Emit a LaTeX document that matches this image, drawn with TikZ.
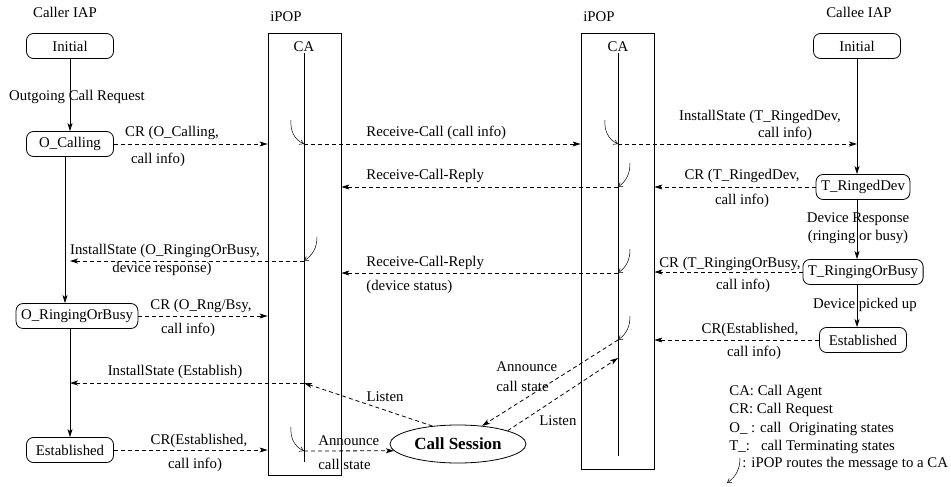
\documentclass[tikz,border=0pt]{standalone}
\usepackage{fontspec}
\setmainfont{Liberation Serif}
\usetikzlibrary{arrows.meta,shapes.geometric}

\begin{document}
\begin{tikzpicture}
[x=1pt,y=-1pt,line width=0.8pt,
  >={Stealth[length=8pt,width=5pt,inset=2pt]},
  every node/.style={font=\fontsize{14.8}{16}\selectfont,inner sep=1pt},
  state/.style={draw,rounded corners=7pt,minimum width=87pt,minimum height=25pt,inner xsep=5pt},
  msg/.style={->,dash pattern=on 4pt off 3pt},
  route/.style={line width=0.5pt,-{Straight Barb[length=4pt,width=5pt]}},
  ipop/.style={draw,minimum width=73pt}]
\useasboundingbox (0,0) rectangle (951,487);
% headings
\node (caller) at (65,12) {Caller IAP};
\node (callee) at (859,12) {Callee IAP};
\node (popLt) at (286,17) {iPOP};
\node (popRt) at (599,17) {iPOP};
% the two iPOPs and their call agents
\node[ipop,minimum height=442pt] (popL) at (304.5,254) {};
\node[ipop,minimum height=436pt] (popR) at (617.5,251) {};
\node (caL) at (304,47) {CA};
\node (caR) at (618,47) {CA};
\coordinate (caLend) at (304,462);
\coordinate (caRend) at (618,456);
\draw (caL.south) -- (caLend);
\draw (caR.south) -- (caRend);
\coordinate (cl1) at (304,144);
\coordinate (cl2) at (304,261);
\coordinate (cl3) at (304,383);
\coordinate (cl4) at (304,451);
\coordinate (cr1) at (618,144);
\coordinate (cr2) at (618,187);
\coordinate (cr3) at (618,273);
\coordinate (cr4) at (618,340);
\coordinate (cr5) at (618,358);
% caller side
\node[state] (iniL) at (70,46) {Initial};
\node[state] (ocall) at (70,144) {O\_Calling};
\node[state] (oring) at (77,316) {O\_RingingOrBusy};
\node[state] (estL) at (70,450) {Established};
\coordinate (iL1) at (70,261);
\coordinate (iL2) at (70,383);
\draw[->] (iniL) -- (ocall);
\draw[->] ([xshift=-5pt]ocall.south) -- ([xshift=-5pt]ocall.south |- oring.north);
\draw[->] ([xshift=-7pt]oring.south) -- (estL);
\node (ogo) at (77,97) {Outgoing Call Request};
% callee side
\node[state] (iniR) at (857,46) {Initial};
\node[state] (tring) at (863,187) {T\_RingedDev};
\node[state] (tbusy) at (863,272) {T\_RingingOrBusy};
\node[state] (estR) at (863,340) {Established};
\coordinate (iR1) at (857,144);
\draw[->] (iniR) -- (iniR |- tring.north);
\draw[->] ([xshift=-6pt]tring.south) -- ([xshift=-6pt]tring.south |- tbusy.north);
\draw[->] ([xshift=-6pt]tbusy.south) -- ([xshift=-6pt]tbusy.south |- estR.north);
\node (dres) at (858,219) {Device Response};
\node (dres2) at (858,237) {(ringing or busy)};
\node (dpick) at (865,305) {Device picked up};
% session
\node[ellipse,draw,minimum width=136pt,minimum height=38pt,inner sep=0pt,
  font=\fontsize{17}{19}\selectfont\bfseries] (sess) at (458,444) {Call Session};
% messages
\draw[msg] (ocall) -- (ocall -| popL.west);
\draw[msg] (cl1) -- (cl1 -| popR.west);
\draw[msg] (cr1) -- (iR1);
\draw[msg] (tring) -- (tring -| popR.east);
\draw[msg] (cr2) -- (cr2 -| popL.east);
\draw[msg] (cl2) -- (iL1);
\draw[msg] (tbusy) -- (tbusy -| popR.east);
\draw[msg] (cr3) -- (cr3 -| popL.east);
\draw[msg] (oring) -- (oring -| popL.west);
\draw[msg] (estR) -- (estR -| popR.east);
\draw[msg] (cl3) -- (iL2);
\draw[msg] (estL) -- (estL -| popL.west);
\draw[msg] (cl4) -- (sess.186);
\draw[msg] (sess.145) -- (cl3);
\draw[msg] (cr4) -- (sess.37);
\draw[msg] (sess.15) -- (cr5);
% routing to a CA
\draw[route] ([shift={(-13,-24)}]cl1) to[out=-95,in=155] (cl1);
\draw[route] ([shift={(13,-24)}]cl2) to[out=-90,in=35] (cl2);
\draw[route] ([shift={(-13,-24)}]cl4) to[out=-95,in=155] (cl4);
\draw[route] ([shift={(-13,-24)}]cr1) to[out=-95,in=155] (cr1);
\draw[route] ([shift={(12,-24)}]cr2) to[out=-90,in=35] (cr2);
\draw[route] ([shift={(12,-24)}]cr3) to[out=-90,in=35] (cr3);
\draw[route] ([shift={(12,-24)}]cr4) to[out=-90,in=35] (cr4);
% message labels
\node (l1a) at (172,133) {CR (O\_Calling,};
\node (l1b) at (158,160) {call info)};
\node[anchor=west] (l2) at (365,133) {Receive-Call (call info)};
\node (l3a) at (760,117) {InstallState (T\_RingedDev,};
\node (l3b) at (785,134) {call info)};
\node (l4a) at (742,176) {CR (T\_RingedDev,};
\node (l4b) at (742,201) {call info)};
\node[anchor=west] (l5) at (365,176) {Receive-Call-Reply};
\node (l6a) at (165,251) {InstallState (O\_RingingOrBusy,};
\node (l6b) at (162,269) {device response)};
\node (l7a) at (730,264) {CR (T\_RingingOrBusy,};
\node (l7b) at (743,286) {call info)};
\node[anchor=west] (l8a) at (365,263) {Receive-Call-Reply};
\node[anchor=west] (l8b) at (365,287) {(device status)};
\node (l9a) at (201,306) {CR (O\_Rng/Bsy,};
\node (l9b) at (188,330) {call info)};
\node (l10a) at (750,330) {CR(Established,};
\node (l10b) at (754,353) {call info)};
\node (l11) at (175,372) {InstallState (Establish)};
\node (l12) at (385,397) {Listen};
\node (l13a) at (199,441) {CR(Established,};
\node (l13b) at (195,465) {call info)};
\node[anchor=west] (l14a) at (317,441) {Announce};
\node[anchor=west] (l14b) at (317,464) {call state};
\node[anchor=west] (l15a) at (495,367) {Announce};
\node[anchor=west] (l15b) at (495,386) {call state};
\node[anchor=west] (l16) at (538,421) {Listen};
% legend
\node[anchor=west,align=left,font=\fontsize{14.8}{18.3}\selectfont] (legend) at (728,419.5)
  {CA: Call Agent\\CR: Call Request\\O\_ : call~~Originating states\\T\_:~~~call Terminating states};
\coordinate (lgh) at (727,483);
\draw[route] ([shift={(13,-25)}]lgh) to[out=-90,in=35] (lgh);
\node[anchor=west] (lgroute) at (741,464) {: iPOP routes the message to a CA};
\end{tikzpicture}
\end{document}
